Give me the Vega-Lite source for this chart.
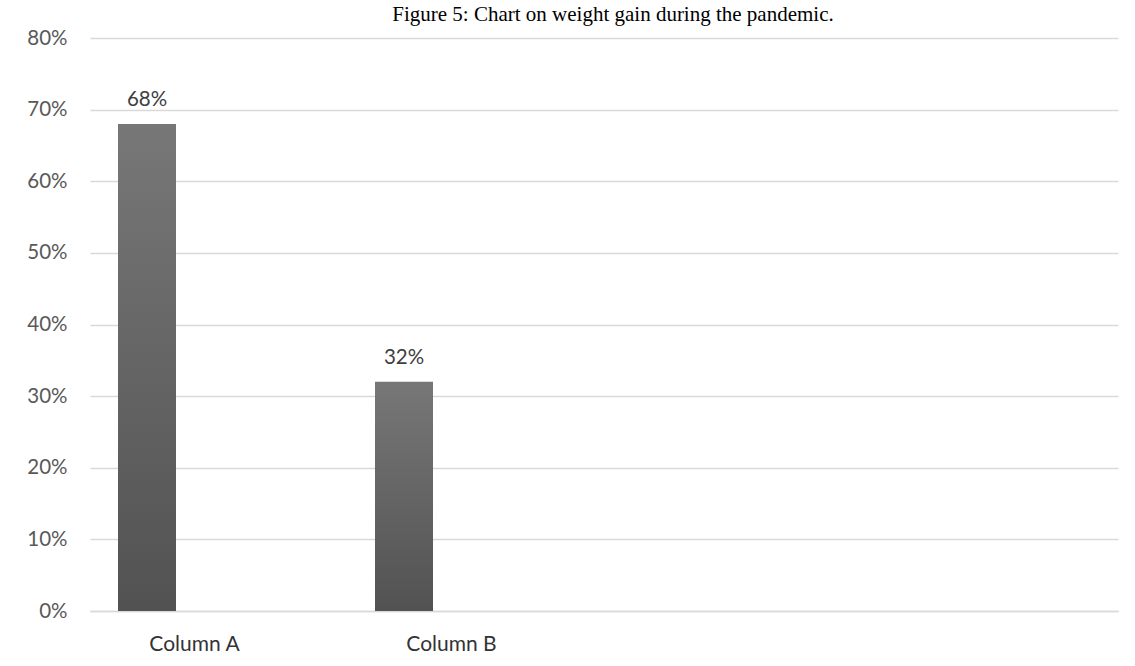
{
  "$schema": "https://vega.github.io/schema/vega-lite/v6.json",
  "autosize": "none",
  "width": 1028,
  "height": 573,
  "padding": {"left": 90, "top": 38, "right": 17, "bottom": 55},
  "background": "white",
  "config": {"view": {"stroke": null}},
  "title": {
    "text": "Figure 5: Chart on weight gain during the pandemic.",
    "font": "Liberation Serif",
    "fontSize": 21,
    "fontWeight": "normal",
    "color": "#000000",
    "anchor": "middle",
    "baseline": "alphabetic",
    "offset": -14,
    "dx": 9
  },
  "data": {
    "values": [
      {"category": "Column A", "share": 0.68},
      {"category": "Column B", "share": 0.32}
    ]
  },
  "encoding": {
    "x": {
      "field": "category",
      "type": "nominal",
      "scale": {"domain": ["Column A", "Column B", "Column C", "Column D"], "paddingInner": 0, "paddingOuter": 0},
      "axis": {
        "title": null,
        "values": ["Column A", "Column B"],
        "labelAngle": 0,
        "labelOffset": -24,
        "labelPadding": 22,
        "labelFont": "Lato",
        "labelFontSize": 21,
        "labelColor": "#333333",
        "ticks": false,
        "domainColor": "#d9d9d9",
        "domainWidth": 1.5,
        "grid": false
      }
    },
    "y": {
      "field": "share",
      "type": "quantitative",
      "scale": {"domain": [0, 0.8], "nice": false},
      "axis": {
        "title": null,
        "format": ".0%",
        "values": [0, 0.1, 0.2, 0.3, 0.4, 0.5, 0.6, 0.7, 0.8],
        "labelPadding": 23,
        "labelFont": "Lato",
        "labelFontSize": 20.5,
        "labelColor": "#595959",
        "ticks": false,
        "domain": false,
        "gridColor": "#d9d9d9",
        "gridWidth": 1.5
      }
    }
  },
  "layer": [
    {
      "mark": {
        "type": "bar",
        "width": 58,
        "xOffset": -71.5,
        "color": {
          "gradient": "linear",
          "x1": 0, "y1": 0, "x2": 0, "y2": 1,
          "stops": [
            {"offset": 0, "color": "#777777"},
            {"offset": 1, "color": "#525252"}
          ]
        }
      }
    },
    {
      "mark": {
        "type": "text",
        "xOffset": -71.5,
        "baseline": "alphabetic",
        "dy": -18,
        "font": "Lato",
        "fontSize": 20.5,
        "color": "#404040"
      },
      "encoding": {
        "text": {"field": "share", "type": "quantitative", "format": ".0%"}
      }
    }
  ]
}
